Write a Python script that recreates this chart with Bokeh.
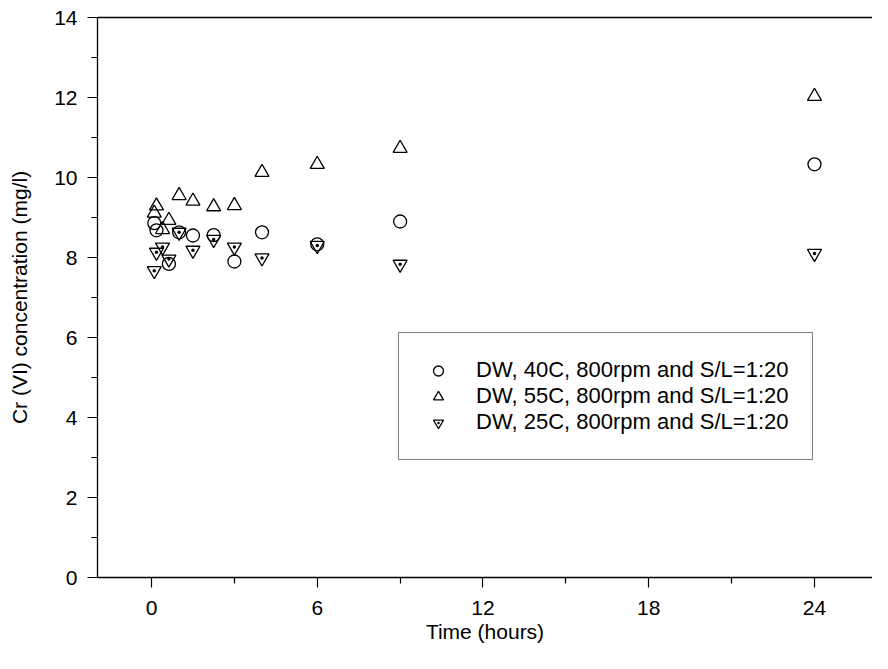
from bokeh.plotting import figure
from bokeh.models import Range1d, FixedTicker, LinearAxis, Legend, LegendItem
from bokeh.embed import file_html
from bokeh.resources import INLINE

# ---- data ----
time_40 = [0.1, 0.18, 0.63, 1.0, 1.5, 2.25, 3.0, 4.0, 6.0, 9.0, 24.0]
conc_40 = [8.86, 8.68, 7.84, 8.63, 8.55, 8.56, 7.90, 8.63, 8.33, 8.90, 10.33]

time_55 = [0.1, 0.18, 0.4, 0.63, 1.0, 1.5, 2.25, 3.0, 4.0, 6.0, 9.0, 24.0]
conc_55 = [9.11, 9.29, 8.70, 8.93, 9.55, 9.41, 9.27, 9.30, 10.13, 10.33, 10.73, 12.03]

time_25 = [0.1, 0.18, 0.4, 0.63, 1.0, 1.5, 2.25, 3.0, 4.0, 6.0, 9.0, 24.0]
conc_25 = [7.67, 8.13, 8.26, 7.96, 8.63, 8.18, 8.45, 8.26, 7.99, 8.30, 7.83, 8.10]

labels = ["DW, 40C, 800rpm and S/L=1:20",
          "DW, 55C, 800rpm and S/L=1:20",
          "DW, 25C, 800rpm and S/L=1:20"]

x_major = [0, 6, 12, 18, 24]
x_minor = [3, 9, 15, 21]
y_major = [0, 2, 4, 6, 8, 10, 12, 14]
y_minor = [1, 3, 5, 7, 9, 11, 13]

FONT = "Liberation Sans"

p = figure(width=872, height=653, output_backend="svg", toolbar_location=None,
           x_range=Range1d(-1.955, 26.1), y_range=Range1d(0, 14),
           min_border_left=97, min_border_right=0, min_border_top=17,
           min_border_bottom=76, x_axis_type=None, y_axis_type=None)
p.grid.visible = False
p.outline_line_color = None
p.background_fill_color = "white"
p.border_fill_color = "white"

def style_axis(ax):
    ax.axis_line_color = "black"
    ax.axis_line_width = 1.3
    ax.major_tick_line_color = "black"
    ax.minor_tick_line_color = "black"
    ax.major_tick_line_width = 1.2
    ax.minor_tick_line_width = 1.2
    ax.major_tick_in = 0
    ax.minor_tick_in = 0
    ax.major_tick_out = 10
    ax.minor_tick_out = 6
    ax.major_label_text_font = FONT
    ax.major_label_text_font_size = "21px"
    ax.major_label_text_color = "black"
    ax.axis_label_text_font = FONT
    ax.axis_label_text_font_size = "21px"
    ax.axis_label_text_font_style = "normal"
    ax.axis_label_text_color = "black"

xa = LinearAxis(ticker=FixedTicker(ticks=x_major, minor_ticks=x_minor),
                axis_label="Time (hours)")
style_axis(xa)
xa.major_label_standoff = 13
xa.axis_label_standoff = 2
p.add_layout(xa, "below")

ya = LinearAxis(ticker=FixedTicker(ticks=y_major, minor_ticks=y_minor),
                axis_label="Cr (VI) concentration (mg/l)")
style_axis(ya)
ya.major_label_standoff = 10
ya.axis_label_standoff = 20
p.add_layout(ya, "left")

top = LinearAxis(ticker=FixedTicker(ticks=[]))
top.axis_line_color = "black"
top.axis_line_width = 1.3
top.major_tick_line_color = None
top.minor_tick_line_color = None
top.major_label_text_font_size = "0px"
p.add_layout(top, "above")

r40 = p.scatter(time_40, conc_40, marker="circle", size=13, fill_color=None,
                line_color="black", line_width=1.3)
r55 = p.scatter(time_55, conc_55, marker="triangle", size=14, fill_color=None,
                line_color="black", line_width=1.3)
r25 = p.scatter(time_25, conc_25, marker="inverted_triangle", size=14,
                fill_color=None, line_color="black", line_width=1.3)
r25d = p.scatter(time_25, conc_25, marker="dot", size=14, fill_color="black",
                 line_color="black", line_width=1.0)

legend = Legend(items=[LegendItem(label=labels[0], renderers=[r40]),
                       LegendItem(label=labels[1], renderers=[r55]),
                       LegendItem(label=labels[2], renderers=[r25, r25d])],
                location=(301, 117))
legend.border_line_color = "black"
legend.border_line_width = 1.2
legend.background_fill_color = "white"
legend.background_fill_alpha = 1
legend.padding = 24
legend.spacing = 0
legend.margin = 0
legend.glyph_width = 30
legend.glyph_height = 25
legend.label_height = 25
legend.label_standoff = 23
legend.label_text_font = FONT
legend.label_text_font_size = "22px"
legend.label_text_color = "black"
legend.label_text_baseline = "middle"
p.add_layout(legend, "center")

open("out.html", "w").write(file_html(p, INLINE))
